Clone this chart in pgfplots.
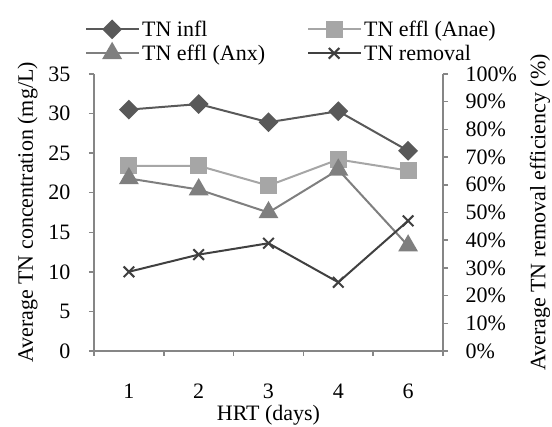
\documentclass[border=0pt]{standalone}
\usepackage{fontspec}
\setmainfont{Liberation Serif}
\usepackage{pgfplots}
\pgfplotsset{compat=1.18}
\definecolor{axisgray}{HTML}{868686}
\definecolor{cinfl}{HTML}{595959}
\definecolor{canae}{HTML}{A6A6A6}
\definecolor{canx}{HTML}{7F7F7F}
\definecolor{crem}{HTML}{404040}
\begin{document}
\begin{tikzpicture}
\useasboundingbox (-94pt,-76pt) rectangle (458pt,351pt);
\pgfplotsset{
  every axis/.append style={
    scale only axis, width=349pt, height=277pt,
    at={(0pt,0pt)}, anchor=south west,
    /pgf/number format/assume math mode=true,
    font=\fontsize{22}{26}\selectfont,
    tick label style={font=\fontsize{22}{26}\selectfont},
    label style={font=\fontsize{22}{26}\selectfont},
    axis line style={draw=axisgray, line width=1.5pt},
    tick style={draw=axisgray, line width=1.5pt},
    tick align=outside, major tick length=5pt,
    xmin=-0.5, xmax=4.5,
  },
}
\begin{axis}[
  axis x line*=bottom, axis y line*=left,
  ymin=0, ymax=35, ytick={0,5,...,35},
  yticklabel style={xshift=-15pt},
  xtick={-0.5,0.5,1.5,2.5,3.5,4.5}, xticklabels={},
  extra x ticks={0,1,2,3,4}, extra x tick labels={1,2,3,4,6},
  extra x tick style={major tick length=0pt, tick label style={yshift=-29pt}},
  xlabel={HRT (days)},
  xlabel style={at={(axis description cs:0.5,-0.233)}, anchor=center},
  ylabel={Average TN concentration (mg/L)},
  ylabel style={at={(axis description cs:-0.19,0.5)}, anchor=center},
  legend columns=2,
  legend style={at={(-0.026,1.2)}, anchor=north west, draw=none, fill=none,
    font=\fontsize{22}{26}\selectfont, row sep=3pt, inner sep=0pt,
    /tikz/every even column/.append style={column sep=40pt}},
  legend cell align=left,
  legend image code/.code={\draw[mark repeat=2,mark phase=2] plot coordinates {(0pt,0pt) (26pt,0pt) (53pt,0pt)};},
]
\addplot[cinfl, line width=2pt, mark=square*, mark size=6pt, mark options={fill=cinfl, draw=cinfl, rotate=45, solid}]
  coordinates {(0,30.5) (1,31.2) (2,28.9) (3,30.3) (4,25.3)};
\addlegendentry{TN infl}
\addplot[canae, line width=2pt, mark=square*, mark size=7.5pt, mark options={fill=canae, draw=canae}]
  coordinates {(0,23.4) (1,23.4) (2,20.9) (3,24.2) (4,22.8)};
\addlegendentry{TN effl (Anae)}
\addplot[canx, line width=2pt, mark=triangle*, mark size=9.5pt, mark options={fill=canx, draw=canx}]
  coordinates {(0,21.8) (1,20.4) (2,17.5) (3,22.9) (4,13.3)};
\addlegendentry{TN effl (Anx)}
\addlegendimage{crem, line width=2pt, mark=x, mark size=7.5pt}
\addlegendentry{TN removal}
\end{axis}
\begin{axis}[
  axis x line=none, axis y line*=right,
  ymin=0, ymax=100, ytick={0,10,...,100},
  yticklabel={\pgfmathprintnumber{\tick}\%},
  yticklabel style={xshift=14pt},
  ylabel={Average TN removal efficiency (\%)},
  ylabel style={at={(axis description cs:1.278,0.5)}, anchor=center},
]
\addplot[crem, line width=2pt, mark=x, mark size=7.5pt]
  coordinates {(0,28.6) (1,34.8) (2,38.9) (3,24.8) (4,47.0)};
\end{axis}
\end{tikzpicture}
\end{document}
